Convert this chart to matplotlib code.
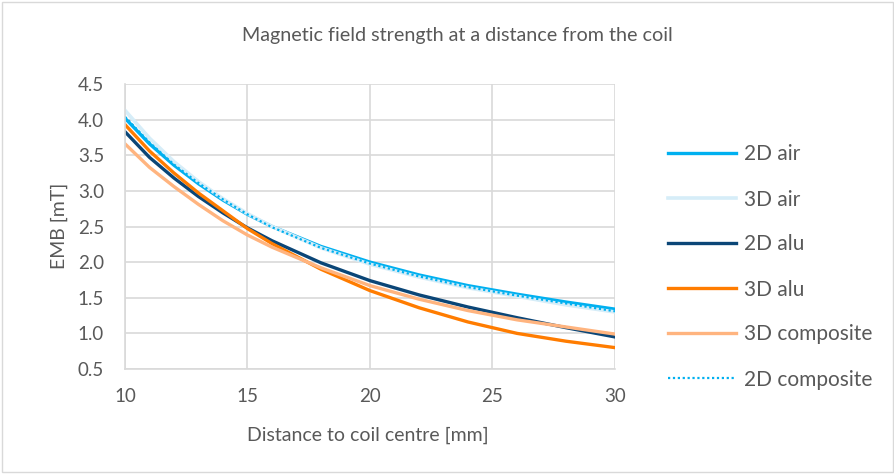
import matplotlib.pyplot as plt
from matplotlib.patches import Rectangle

# distance to coil centre [mm]
dist = [10, 11, 12, 13, 14, 15, 16, 18, 20, 22, 24, 26, 28, 30]

# field strength [mT]
air_2d = [4.02, 3.66, 3.36, 3.10, 2.87, 2.67, 2.50, 2.22, 2.00, 1.82, 1.67, 1.55, 1.44, 1.34]
air_3d = [4.13, 3.74, 3.41, 3.13, 2.89, 2.68, 2.50, 2.20, 1.97, 1.79, 1.64, 1.52, 1.40, 1.30]
alu_2d = [3.83, 3.47, 3.18, 2.92, 2.69, 2.48, 2.30, 1.99, 1.74, 1.54, 1.37, 1.22, 1.08, 0.95]
alu_3d = [3.93, 3.56, 3.25, 2.97, 2.72, 2.47, 2.26, 1.90, 1.60, 1.36, 1.16, 1.00, 0.89, 0.80]
comp_3d = [3.66, 3.33, 3.06, 2.81, 2.58, 2.38, 2.21, 1.92, 1.67, 1.48, 1.32, 1.19, 1.09, 0.99]
comp_2d = [4.04, 3.68, 3.37, 3.11, 2.88, 2.67, 2.49, 2.20, 1.98, 1.80, 1.65, 1.53, 1.42, 1.31]

xticks = [10, 15, 20, 25, 30]
yticks = [0.5, 1.0, 1.5, 2.0, 2.5, 3.0, 3.5, 4.0, 4.5]

plt.rcParams['font.family'] = ['Lato', 'DejaVu Sans']
txt = '#595959'
grid = '#d9d9d9'

fig = plt.figure(figsize=(8.95, 4.74), dpi=100)
ax = fig.add_axes([125 / 895, 1 - 369 / 474, 490 / 895, 285 / 474])

ax.plot(dist, air_2d, color='#00b0f0', lw=2.4, label='2D air')
ax.plot(dist, air_3d, color='#d6edf8', lw=2.6, label='3D air')
ax.plot(dist, alu_2d, color='#0b4677', lw=2.4, label='2D alu')
ax.plot(dist, alu_3d, color='#ff7c00', lw=2.4, label='3D alu')
ax.plot(dist, comp_3d, color='#ffb47f', lw=2.4, label='3D composite')
ax.plot(dist, comp_2d, color='#00b0f0', lw=1.6, ls=(0, (1, 1.2)), label='2D composite')

ax.set_xlim(10, 30)
ax.set_ylim(0.5, 4.5)
ax.set_xticks(xticks)
ax.set_yticks(yticks)
ax.set_yticklabels([f'{v:.1f}' for v in yticks])
ax.grid(True, color=grid, lw=1.2)
ax.set_axisbelow(True)
for s in ['top', 'right']:
    ax.spines[s].set_visible(False)
for s in ['left', 'bottom']:
    ax.spines[s].set_color(grid)
    ax.spines[s].set_linewidth(1.2)
ax.tick_params(length=0, labelsize=13.5, colors=txt)
ax.tick_params(axis='y', pad=15)
ax.tick_params(axis='x', pad=14)

fig.text(368 / 895, 1 - 435 / 474, 'Distance to coil centre [mm]',
         ha='center', va='center', fontsize=14, color=txt)
fig.text(59 / 895, 1 - 226 / 474, 'EMB [mT]', rotation=90,
         ha='center', va='center', fontsize=14, color=txt)
fig.text(457 / 895, 1 - 36 / 474, 'Magnetic field strength at a distance from the coil',
         ha='center', va='center', fontsize=14.2, color=txt)

leg = fig.legend(loc='center left', bbox_to_anchor=(668 / 895, 1 - 267 / 474), frameon=False,
                 fontsize=15, labelcolor=txt, handlelength=3.25, handletextpad=0.4,
                 labelspacing=1.2, borderpad=0, borderaxespad=0)

fig.patches.append(Rectangle((2 / 895, 2 / 474), 891 / 895, 470 / 474, transform=fig.transFigure,
                             fill=False, edgecolor=grid, lw=1))

fig.savefig('out.png', dpi=100)
